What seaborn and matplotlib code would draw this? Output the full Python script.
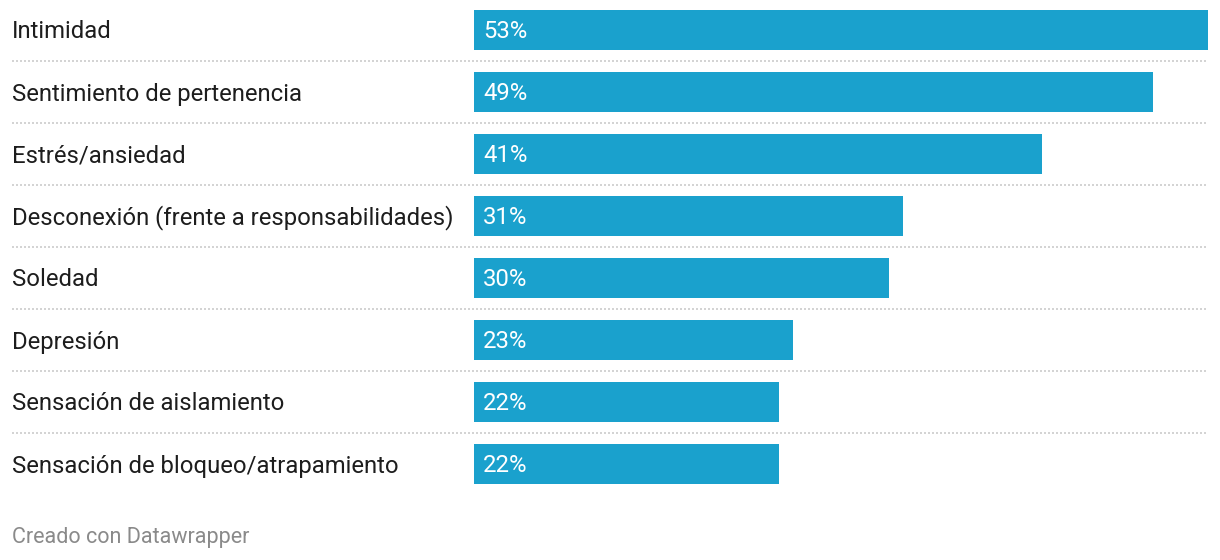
import matplotlib
matplotlib.use("Agg")
import matplotlib.pyplot as plt
import matplotlib.transforms as mtransforms
import seaborn as sns
import pandas as pd

# datos (porcentaje de respuestas)
categorias = [
    "Intimidad",
    "Sentimiento de pertenencia",
    "Estrés/ansiedad",
    "Desconexión (frente a responsabilidades)",
    "Soledad",
    "Depresión",
    "Sensación de aislamiento",
    "Sensación de bloqueo/atrapamiento",
]
valores = [53, 49, 41, 31, 30, 23, 22, 22]

df = pd.DataFrame({"cat": categorias, "val": valores})

sns.set_theme(style="white")
plt.rcParams["font.family"] = ["Roboto", "DejaVu Sans"]

W, H = 1220, 560
fig = plt.figure(figsize=(W / 100, H / 100), dpi=100)
# axes: x from 474 px to 1208 px, rows centred at 30 + 62*i
ax = fig.add_axes([474 / W, 1 - 495 / H, (1208 - 474) / W, 496 / H])

sns.barplot(data=df, x="val", y="cat", orient="h", color="#1aa1cd",
            saturation=1, width=40 / 62, linewidth=0, ax=ax)

ax.set_xlim(0, max(valores))
ax.set_ylim(len(categorias) - 0.5, -0.5)
ax.axis("off")

trans = mtransforms.blended_transform_factory(fig.transFigure, ax.transData)
dy = 2 / 62  # small downward nudge of text

for i, (c, v) in enumerate(zip(categorias, valores)):
    ax.text(12 / W, i + dy, c, transform=trans, ha="left", va="center",
            fontsize=17.2, color="#1d1d1d")
    ax.text(9 / 734 * max(valores), i + dy, f"{v}%", ha="left", va="center",
            fontsize=17.2, color="white")

for i in range(len(categorias) - 1):
    ax.plot([12 / W, 1208 / W], [i + 0.5, i + 0.5], transform=trans,
            color="#cccccc", lw=1.2, ls=(0, (1.2, 1.2)), clip_on=False)

fig.text(12 / W, 1 - 538 / H, "Creado con Datawrapper", ha="left", va="center",
         fontsize=15.5, color="#8a8a8a")

fig.savefig("out.png", dpi=100)
